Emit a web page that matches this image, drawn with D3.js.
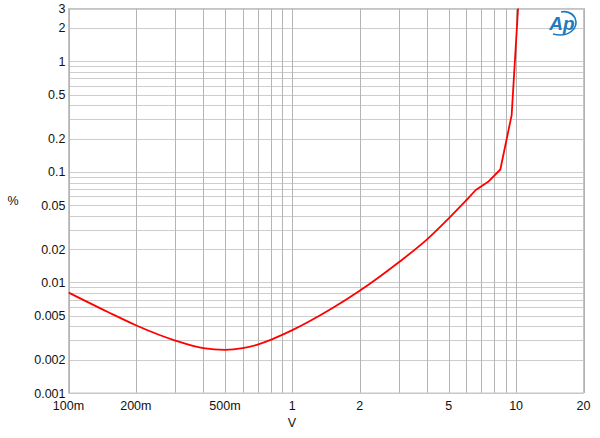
<!DOCTYPE html>
<html>
<head>
<meta charset="utf-8">
<script src="https://cdn.jsdelivr.net/npm/d3@7"></script>
<style>
  body { margin: 0; background: #fff; }
  text { font-family: "Liberation Sans", Arial, sans-serif; }
</style>
</head>
<body>
<script>
// THD+N (%) vs output level (V)
var volts = [0.1, 0.15, 0.2, 0.25, 0.3, 0.4, 0.5, 0.6, 0.7, 0.8, 0.9, 1, 1.5, 2, 3, 4, 5, 6, 6.6, 7.5, 8.5, 9.55, 10.2];
var thd = [0.0081, 0.0054, 0.0041, 0.0034, 0.00298, 0.00254, 0.00245, 0.00254, 0.00274, 0.00302, 0.00335, 0.0037,
           0.0058, 0.0084, 0.0153, 0.0245, 0.038, 0.0556, 0.0685, 0.0813, 0.105, 0.326, 3.0];
var smoothUpTo = 17; // index of 6 V: smooth below, straight segments above (clipping knee)

var xTicks = [0.1, 0.2, 0.5, 1, 2, 5, 10, 20];
var xTickLabels = ["100m", "200m", "500m", "1", "2", "5", "10", "20"];
var yTicks = [0.001, 0.002, 0.005, 0.01, 0.02, 0.05, 0.1, 0.2, 0.5, 1, 2, 3];
var yTickLabels = ["0.001", "0.002", "0.005", "0.01", "0.02", "0.05", "0.1", "0.2", "0.5", "1", "2", "3"];

var W = 600, H = 438;
// plot box (note: "top" is reserved on window, so use pTop etc.)
var pLeft = 68.5, pRight = 583.5, pTop = 8.5, pBottom = 393;

var svg = d3.select("body").append("svg")
    .attr("width", W)
    .attr("height", H);

var x = d3.scaleLog().domain([0.1, 20]).range([pLeft, pRight]);
var y = d3.scaleLog().domain([0.001, 3]).range([pBottom, pTop]);

// minor grid values 1..9 per decade
var xGrid = [], yGrid = [];
[0.1, 1, 10].forEach(function(d) {
  for (var k = 1; k <= 9; k++) {
    var v = +(d * k).toPrecision(3);
    if (v >= 0.1 && v <= 20) xGrid.push(v);
  }
});
xGrid.push(20);
[0.001, 0.01, 0.1, 1].forEach(function(d) {
  for (var k = 1; k <= 9; k++) {
    var v = +(d * k).toPrecision(3);
    if (v >= 0.001 && v <= 3) yGrid.push(v);
  }
});

svg.append("g").selectAll("line")
  .data(yGrid)
  .enter().append("line")
    .attr("x1", pLeft).attr("x2", pRight)
    .attr("y1", function(d) { return Math.round(y(d)) + 0.5; })
    .attr("y2", function(d) { return Math.round(y(d)) + 0.5; })
    .attr("stroke", "#cdcdcd")
    .attr("stroke-width", 1);

svg.append("g").selectAll("line")
  .data(xGrid)
  .enter().append("line")
    .attr("y1", pTop).attr("y2", pBottom)
    .attr("x1", function(d) { return Math.round(x(d)) + 0.5; })
    .attr("x2", function(d) { return Math.round(x(d)) + 0.5; })
    .attr("stroke", "#b4b4b4")
    .attr("stroke-width", 1);

// frame
svg.append("rect")
  .attr("x", pLeft).attr("y", pTop)
  .attr("width", pRight - pLeft).attr("height", pBottom - pTop)
  .attr("fill", "none")
  .attr("stroke", "#c4c4c4");

// y labels
svg.append("g").selectAll("text")
  .data(yTicks)
  .enter().append("text")
    .attr("x", pLeft - 3)
    .attr("y", function(d) { return y(d); })
    .attr("dy", "0.36em")
    .attr("text-anchor", "end")
    .attr("font-size", "12.5px")
    .attr("fill", "#111")
    .text(function(d, i) { return yTickLabels[i]; });

// x labels
svg.append("g").selectAll("text")
  .data(xTicks)
  .enter().append("text")
    .attr("x", function(d) { return x(d); })
    .attr("y", pBottom + 17)
    .attr("text-anchor", "middle")
    .attr("font-size", "12.5px")
    .attr("fill", "#111")
    .text(function(d, i) { return xTickLabels[i]; });

svg.append("text")
  .attr("x", 292).attr("y", 427)
  .attr("text-anchor", "middle")
  .attr("font-size", "12.5px")
  .attr("fill", "#111")
  .text("V");

svg.append("text")
  .attr("x", 13).attr("y", 205)
  .attr("text-anchor", "middle")
  .attr("font-size", "12.5px")
  .attr("fill", "#111")
  .text("%");

// curve
svg.append("clipPath").attr("id", "clip")
  .append("rect")
    .attr("x", pLeft).attr("y", pTop)
    .attr("width", pRight - pLeft).attr("height", pBottom - pTop);

var pts = d3.zip(volts, thd);

var smooth = d3.line()
  .curve(d3.curveMonotoneX)
  .x(function(d) { return x(d[0]); })
  .y(function(d) { return y(d[1]); });

var straight = d3.line()
  .x(function(d) { return x(d[0]); })
  .y(function(d) { return y(d[1]); });

var curveG = svg.append("g").attr("clip-path", "url(#clip)");

curveG.append("path")
  .datum(pts.slice(0, smoothUpTo + 1))
  .attr("d", smooth)
  .attr("fill", "none")
  .attr("stroke", "#ff0000")
  .attr("stroke-width", 1.8)
  .attr("stroke-linejoin", "round");

curveG.append("path")
  .datum(pts.slice(smoothUpTo))
  .attr("d", straight)
  .attr("fill", "none")
  .attr("stroke", "#ff0000")
  .attr("stroke-width", 1.8)
  .attr("stroke-linejoin", "round")
  .attr("stroke-linecap", "round");

// Ap logo
var logo = svg.append("g").attr("transform", "translate(563,24)");
logo.append("path")
  .attr("d", "M -10 10 C 6 14, 16 4, 12 -6 C 9 -12, 2 -13, -2 -12")
  .attr("fill", "none")
  .attr("stroke", "#1f7ac0")
  .attr("stroke-width", 1.6);
logo.append("text")
  .attr("x", -1).attr("y", 6)
  .attr("text-anchor", "middle")
  .attr("font-size", "19px")
  .attr("font-style", "italic")
  .attr("font-weight", "bold")
  .attr("fill", "#1f7ac0")
  .text("Ap");
</script>
</body>
</html>
